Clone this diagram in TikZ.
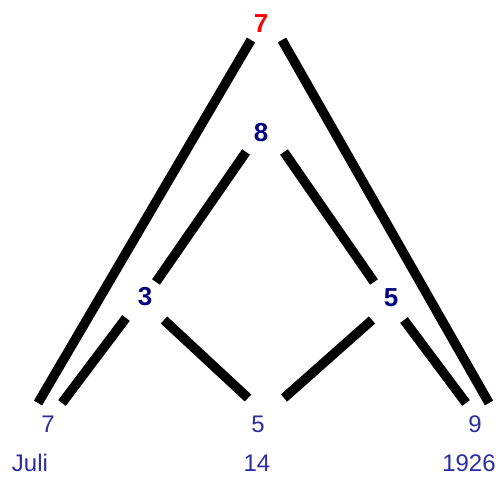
\documentclass[tikz,border=0pt]{standalone}
\usepackage{fontspec}
\setmainfont{Liberation Sans}
\definecolor{topred}{RGB}{255,0,0}
\definecolor{inner}{RGB}{0,0,128}
\definecolor{leaf}{RGB}{45,45,160}
\begin{document}
\begin{tikzpicture}[x=1pt,y=-1pt,
  edge/.style={line width=9.5pt,line cap=butt,black},
  bignum/.style={font=\fontsize{26}{30}\selectfont\bfseries,inner sep=0pt,anchor=center},
  leafnum/.style={font=\fontsize{24}{28}\selectfont,text=leaf,inner sep=0pt,anchor=center}]
\useasboundingbox (0,0) rectangle (499,478);
% labels
\node[bignum,text=topred] (t7) at (261,24) {7};
\node[bignum,text=inner] (n8) at (261,133) {8};
\node[bignum,text=inner] (n3) at (145,297) {3};
\node[bignum,text=inner] (n5) at (391,298) {5};
\node[leafnum] (b7) at (48,424) {7};
\node[leafnum] (b5) at (258,424) {5};
\node[leafnum] (b9) at (475,424) {9};
\node[leafnum] (wJuli) at (30,463) {Juli};
\node[leafnum] (w14) at (257,463) {14};
\node[leafnum] (w1926) at (469,463) {1926};
% connector ends
\coordinate (t7L) at (251,40);
\coordinate (t7R) at (282,40);
\coordinate (n8L) at (246,152);
\coordinate (n8R) at (284,152);
\coordinate (n3T) at (156,282);
\coordinate (n3L) at (126,318);
\coordinate (n3R) at (164,320);
\coordinate (n5T) at (374,282);
\coordinate (n5L) at (372,320);
\coordinate (n5R) at (404,320);
\coordinate (b7O) at (38,403);
\coordinate (b7I) at (62,403);
\coordinate (b5L) at (248,398);
\coordinate (b5R) at (284,398);
\coordinate (b9I) at (466,403);
\coordinate (b9O) at (489,403);
% connectors
\draw[edge] (t7L) -- (b7O);
\draw[edge] (t7R) -- (b9O);
\draw[edge] (n8L) -- (n3T);
\draw[edge] (n8R) -- (n5T);
\draw[edge] (n3L) -- (b7I);
\draw[edge] (n3R) -- (b5L);
\draw[edge] (n5L) -- (b5R);
\draw[edge] (n5R) -- (b9I);
\end{tikzpicture}
\end{document}
